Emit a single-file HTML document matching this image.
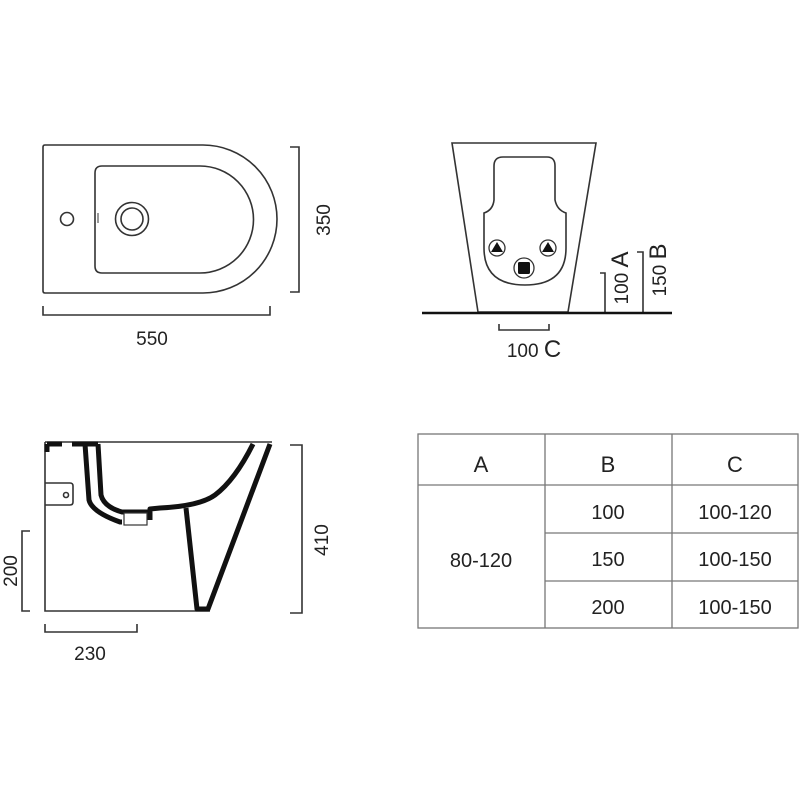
<!DOCTYPE html>
<html><head><meta charset="utf-8"><style>
html,body{margin:0;padding:0;background:#fff;}
svg{display:block;}
text{font-family:"Liberation Sans",sans-serif;fill:#222;}
</style></head><body>
<svg width="800" height="800" viewBox="0 0 800 800" xmlns="http://www.w3.org/2000/svg">
<g fill="none" stroke="#333" stroke-width="1.6">
<!-- top view -->
<path d="M45,145 L203,145 A74,74 0 0 1 203,293 L45,293 Q43,293 43,291 L43,147 Q43,145 45,145 Z"/>
<path d="M102,166 L200,166 A53,53 0 0 1 200,273 L102,273 Q95,273 95,266 L95,173 Q95,166 102,166 Z"/>
<circle cx="67" cy="219" r="6.5"/>
<circle cx="132" cy="219" r="16.5"/>
<circle cx="132" cy="219" r="11"/>
<line x1="98" y1="213" x2="98" y2="223" stroke-width="1"/>
<path d="M290,147 L299,147 L299,292 L290,292"/>
<path d="M43,306 L43,315 L270,315 L270,306"/>
<!-- front view -->
<path d="M452,143 L596,143 L568,312 L478,312 Z"/>
<path d="M503,157 L547,157 Q555,157 555,166 L555,200 Q557,210 566,213 L566,248 Q566,285 525,285 Q484,285 484,248 L484,213 Q493,210 494,200 L494,166 Q494,157 503,157 Z"/>
<path d="M499,324 L499,330 L549,330 L549,324"/>
<path d="M600,273 L605,273 L605,313"/>
<path d="M637,252 L643,252 L643,313"/>
<!-- side view -->
<path d="M45,442 L272,442 M45,442 L45,611 L210,611"/>
<path d="M45,483 L70,483 Q73,483 73,486 L73,502 Q73,505 70,505 L45,505"/>
<circle cx="66" cy="495" r="2.5"/>
<path d="M290,445 L302,445 L302,613 L290,613"/>
<path d="M30,531 L22,531 L22,611 L30,611"/>
<path d="M45,624 L45,632 L137,632 L137,624"/>
</g>
<line x1="422" y1="313" x2="672" y2="313" stroke="#111" stroke-width="2.5"/>
<g>
<circle cx="497" cy="248" r="8" fill="#fff" stroke="#333" stroke-width="1.3"/>
<path d="M497,242 L503,252 L491,252 Z" fill="#111"/>
<circle cx="548" cy="248" r="8" fill="#fff" stroke="#333" stroke-width="1.3"/>
<path d="M548,242 L554,252 L542,252 Z" fill="#111"/>
<circle cx="524" cy="268" r="10" fill="#fff" stroke="#333" stroke-width="1.3"/>
<rect x="518" y="262" width="12" height="12" rx="1.5" fill="#111"/>
</g>
<!-- side view thick section -->
<g fill="none" stroke="#111" stroke-width="5" stroke-linejoin="round">
<path d="M270,444 L208,609 L197,609 L186,508"/>
<path d="M253,444 Q235,480 215,495 Q200,506 160,508 L150,509 L150,520"/>
<path d="M85,444 L89,500 Q92,512 120,522 L122,522"/>
<path d="M98,444 L101,495 Q104,507 122,512 L148,512"/>
<path d="M47,444 L47,452 M47,444 L62,444 M72,444 L98,444"/>
</g>
<rect x="124" y="513" width="23" height="12" fill="#fff" stroke="#333" stroke-width="1.2"/>
<!-- labels -->
<text x="152" y="345" font-size="19" text-anchor="middle">550</text>
<text transform="translate(330,220) rotate(-90)" font-size="19" text-anchor="middle">350</text>
<text x="534" y="357" font-size="19" text-anchor="middle">100 <tspan font-size="24">C</tspan></text>
<text transform="translate(628,278) rotate(-90)" font-size="19" text-anchor="middle">100 <tspan font-size="24">A</tspan></text>
<text transform="translate(666,270) rotate(-90)" font-size="19" text-anchor="middle">150 <tspan font-size="24">B</tspan></text>
<text transform="translate(328,540) rotate(-90)" font-size="19" text-anchor="middle">410</text>
<text transform="translate(17,571) rotate(-90)" font-size="19" text-anchor="middle">200</text>
<text x="90" y="660" font-size="19" text-anchor="middle">230</text>
<!-- table -->
<g fill="none" stroke="#777" stroke-width="1.3">
<rect x="418" y="434" width="380" height="194"/>
<line x1="545" y1="434" x2="545" y2="628"/>
<line x1="672" y1="434" x2="672" y2="628"/>
<line x1="418" y1="485" x2="798" y2="485"/>
<line x1="545" y1="533" x2="798" y2="533"/>
<line x1="545" y1="581" x2="798" y2="581"/>
</g>
<g font-size="20" text-anchor="middle">
<text x="481" y="472" font-size="22">A</text>
<text x="608" y="472" font-size="22">B</text>
<text x="735" y="472" font-size="22">C</text>
<text x="481" y="567">80-120</text>
<text x="608" y="519">100</text>
<text x="608" y="566">150</text>
<text x="608" y="614">200</text>
<text x="735" y="519">100-120</text>
<text x="735" y="566">100-150</text>
<text x="735" y="614">100-150</text>
</g>
</svg>
</body></html>
